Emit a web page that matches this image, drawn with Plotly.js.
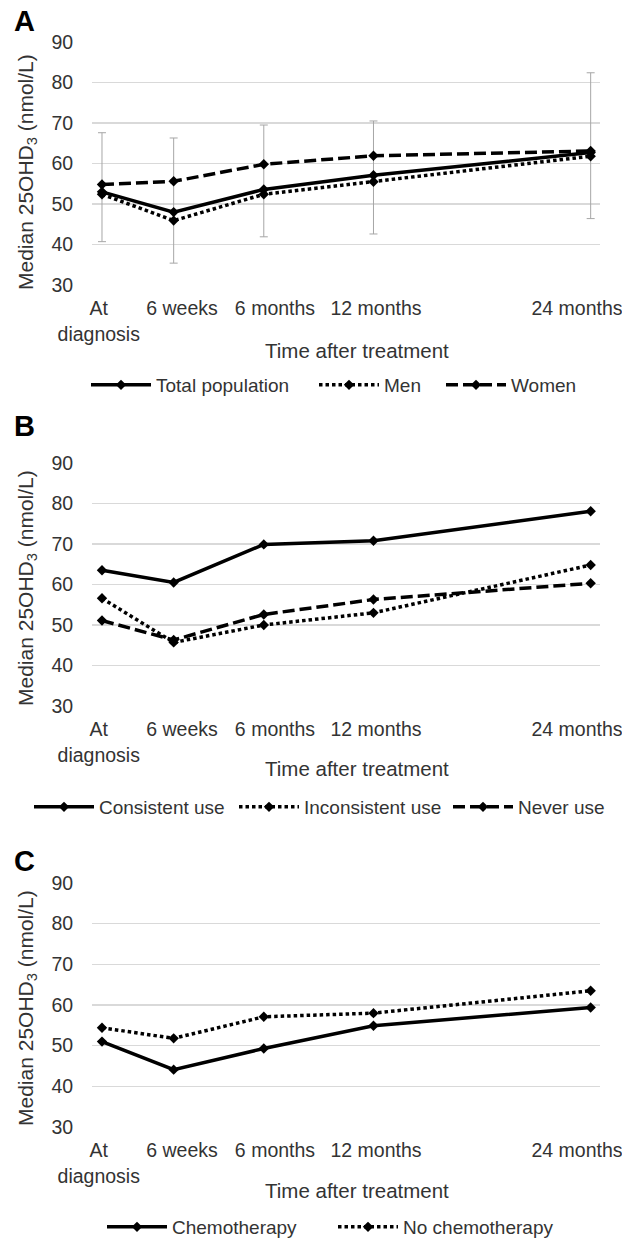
<!DOCTYPE html>
<html><head><meta charset="utf-8">
<script src="https://cdn.plot.ly/plotly-3.0.1.min.js"></script>
<style>html,body{margin:0;padding:0;background:#fff;}.panel{width:622px;display:block;}</style>
</head><body>
<div id="panelA" class="panel" style="height:405px"></div>
<div id="panelB" class="panel" style="height:420px"></div>
<div id="panelC" class="panel" style="height:413px"></div>
<script>
// ---------- data ----------
const timeLabels = ['At<br>diagnosis', '6 weeks', '6 months', '12 months', '24 months'];
const timeAxisPos = [0, 0.66, 1.49, 2.5, 4.5];

// Panel A
const totalPopulation = [53.0, 48.0, 53.6, 57.1, 62.7];
const totalUpper = [67.6, 66.3, 69.5, 70.5, 82.4];
const totalLower = [40.7, 35.4, 41.9, 42.6, 46.4];
const men = [52.4, 45.9, 52.4, 55.5, 61.8];
const women = [54.8, 55.6, 59.8, 61.9, 63.1];

// Panel B
const consistentUse = [63.5, 60.5, 69.9, 70.8, 78.1];
const inconsistentUse = [56.6, 45.7, 50.0, 53.0, 64.8];
const neverUse = [51.1, 46.3, 52.6, 56.3, 60.3];

// Panel C
const chemotherapy = [51.0, 44.1, 49.3, 54.9, 59.4];
const noChemotherapy = [54.4, 51.8, 57.1, 58.0, 63.5];

// ---------- layout ----------
// tick-label centres as drawn in the original figure (axis units)
const tickLabelPos = [-0.03, 0.737, 1.593, 2.523, 4.374];

const W = 622, ML = 92, MR = 22;
const PW = W - ML - MR;
const FONT = 'Liberation Sans, Arial, sans-serif';
const TXT = '#333333';

const solid = {color: '#000', width: 3.5};
const dotted = {color: '#000', width: 3.5, dash: '3.5px,3px'};
const dashed = {color: '#000', width: 3.5, dash: '12px,5px'};
const mk = {symbol: 'diamond', size: 8, color: '#000'};

function tr(y, name, line, entryW, extra) {
  return Object.assign({
    type: 'scatter', mode: 'lines+markers', x: timeAxisPos, y: y, name: name,
    line: line, marker: mk, hoverinfo: 'skip', legendwidth: entryW
  }, extra || {});
}

const upperDiff = totalUpper.map((u, i) => u - totalPopulation[i]);
const lowerDiff = totalLower.map((l, i) => totalPopulation[i] - l);

const panels = [
  {id: 'panelA', offset: 0, height: 405, top: 42, bottom: 285, letter: 'A', letterY: 21,
   titleY: 351, legendY: 385, legendX: 86, ytitleY: 172,
   traces: [
     tr(totalPopulation, 'Total population', solid, 153, {
       error_y: {type: 'data', symmetric: false, array: upperDiff, arrayminus: lowerDiff,
                 color: '#a6a6a6', thickness: 1, width: 4}}),
     tr(men, 'Men', dotted, 52),
     tr(women, 'Women', dashed, 70)
   ]},
  {id: 'panelB', offset: 405, height: 420, top: 463, bottom: 706, letter: 'B', letterY: 426,
   titleY: 768, legendY: 807, legendX: 29, ytitleY: 588,
   traces: [
     tr(consistentUse, 'Consistent use', solid, 130),
     tr(inconsistentUse, 'Inconsistent use', dotted, 139),
     tr(neverUse, 'Never use', dashed, 90)
   ]},
  {id: 'panelC', offset: 825, height: 413, top: 883, bottom: 1127, letter: 'C', letterY: 861,
   titleY: 1190, legendY: 1227, legendX: 102, ytitleY: 1008,
   traces: [
     tr(chemotherapy, 'Chemotherapy', solid, 156),
     tr(noChemotherapy, 'No chemotherapy', dotted, 160)
   ]}
];

panels.forEach(p => {
  const top = p.top - p.offset, bottom = p.bottom - p.offset;
  const ph = bottom - top;
  const py = g => (bottom - (g - p.offset)) / ph;   // global pixel y -> paper y
  const pxx = x => (x - ML) / PW;                   // pixel x -> paper x
  const layout = {
    width: W, height: p.height,
    margin: {l: ML, r: MR, t: top, b: p.height - bottom, autoexpand: false},
    paper_bgcolor: '#fff', plot_bgcolor: '#fff',
    font: {family: FONT, color: TXT, size: 19},
    showlegend: true,
    xaxis: {
      range: [-0.092, 4.586],
      tickmode: 'array', tickvals: tickLabelPos, ticktext: timeLabels, tickangle: 0,
      ticklabeloverflow: 'allow',
      showgrid: false, zeroline: false, showline: false,
      ticks: 'outside', ticklen: 6, tickcolor: 'rgba(0,0,0,0)',
      tickfont: {family: FONT, size: 19.5, color: TXT}, automargin: false, fixedrange: true
    },
    yaxis: {
      range: [30, 90], tickmode: 'linear', tick0: 30, dtick: 10,
      showgrid: true, gridcolor: '#d9d9d9', gridwidth: 1.3,
      zeroline: false, showline: false,
      ticks: 'outside', ticklen: 14, tickcolor: 'rgba(0,0,0,0)',
      tickfont: {family: FONT, size: 19.5, color: TXT}, automargin: false, fixedrange: true
    },
    legend: {
      orientation: 'h', x: pxx(p.legendX), xanchor: 'left', y: py(p.legendY), yanchor: 'middle',
      font: {family: FONT, size: 19, color: TXT}, bgcolor: 'rgba(0,0,0,0)',
      itemwidth: 60, itemclick: false, itemdoubleclick: false
    },
    annotations: [
      {xref: 'paper', yref: 'paper', x: pxx(24), y: py(p.letterY), xanchor: 'center', yanchor: 'middle',
       text: '<b>' + p.letter + '</b>', showarrow: false, font: {family: FONT, size: 29, color: '#000'}},
      {xref: 'paper', yref: 'paper', x: pxx(357), y: py(p.titleY), xanchor: 'center', yanchor: 'middle',
       text: 'Time after treatment', showarrow: false, font: {family: FONT, size: 20.5, color: TXT}},
      {xref: 'paper', yref: 'paper', x: pxx(27), y: py(p.ytitleY), xanchor: 'center', yanchor: 'middle',
       textangle: -90, text: 'Median 25OHD<sub>3</sub> (nmol/L)', showarrow: false,
       font: {family: FONT, size: 21, color: TXT}}
    ]
  };
  Plotly.newPlot(p.id, p.traces, layout, {displayModeBar: false, staticPlot: true});
});
</script></body></html>
